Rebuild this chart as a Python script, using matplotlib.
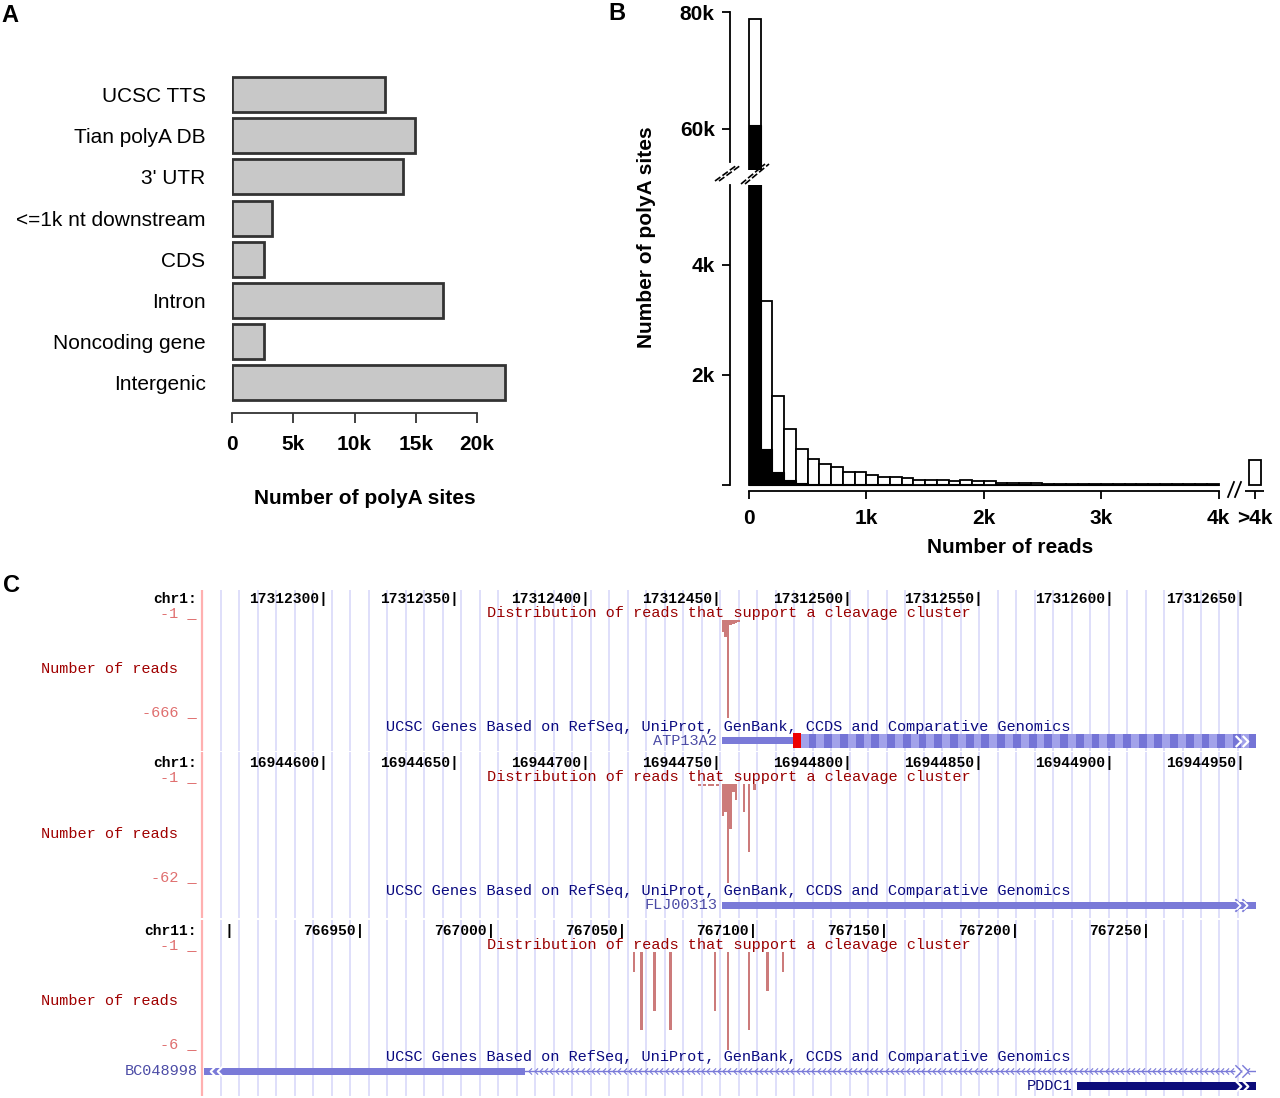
import numpy as np
import matplotlib
matplotlib.use("Agg")
import matplotlib.pyplot as plt
from matplotlib.path import Path
from matplotlib.lines import Line2D
from matplotlib.patches import Rectangle

# ---------------- data ----------------
# Panel A
categories = ["UCSC TTS", "Tian polyA DB", "3' UTR", "<=1k nt downstream",
              "CDS", "Intron", "Noncoding gene", "Intergenic"]
site_counts = [12500, 14900, 13950, 3250, 2600, 17250, 2600, 22250]
a_ticks = [0, 5000, 10000, 15000, 20000]
a_tick_labels = ["0", "5k", "10k", "15k", "20k"]

# Panel B (bins of 100 reads, 0 .. 4000)
bin_width = 100
all_counts = [78800, 3350, 1620, 1020, 660, 480, 390, 320, 240, 240,
              180, 150, 150, 120, 90, 100, 90, 70, 90, 70,
              70, 30, 30, 30, 30, 25, 25, 25, 25, 20,
              20, 20, 20, 20, 20, 20, 20, 20, 20, 20]
subset_counts = [60700, 650, 240, 100, 40, 20, 10, 10, 10, 10,
                 15, 15, 15, 15, 0, 15, 15, 15, 15, 15,
                 0, 20, 20, 20, 0, 20, 20, 0, 20, 20,
                 0, 0, 0, 0, 0, 0, 0, 0, 0, 0]
over_4k_left = 4260
over_4k_count = 450
b_xticks = [0, 1000, 2000, 3000, 4000, 4310]
b_xtick_labels = ["0", "1k", "2k", "3k", "4k", ">4k"]

# Panel C
track_chroms = ["chr1:", "chr1:", "chr11:"]
track_starts = [17312253.3, 16944553.3, 766889.3]
ruler_ticks = [
    [17312300, 17312350, 17312400, 17312450, 17312500, 17312550, 17312600, 17312650],
    [16944600, 16944650, 16944700, 16944750, 16944800, 16944850, 16944900, 16944950],
    [766950, 767000, 767050, 767100, 767150, 767200, 767250],
]
ruler_cut_tick = 766900
read_pos = [
    [17312452, 17312453, 17312454, 17312455, 17312456, 17312457, 17312458],
    [16944743, 16944745, 16944747, 16944748, 16944750, 16944752, 16944753,
     16944754, 16944755, 16944756, 16944757, 16944760, 16944762, 16944764],
    [767054, 767057, 767062, 767068, 767085, 767090, 767098, 767105, 767111],
]
read_val = [
    [-80, -115, -666, -35, -28, -20, -12],
    [-2, -2, -2, -2, -2, -21, -18, -62, -29, -6, -11, -18, -43, -5],
    [-2, -5, -4, -5, -4, -6, -5, -3, -2],
]
scale_min = [-666, -62, -6]
scale_labels_min = ["-666 _", "-62 _", "-6 _"]

# genes
atp_utr_start, atp_stop_start, atp_stop_end = 17312452.2, 17312479.2, 17312482.2
flj_start = 16944752.2
bc_exon_start, bc_exon_end = 766890.4, 767013.0
pddc1_start = 767223.7

# ---------------- figure helpers ----------------
W, H = 1280, 1098
fig = plt.figure(figsize=(W / 100, H / 100), dpi=100)
SANS = ["Liberation Sans", "DejaVu Sans"]
MONO = ["Liberation Mono", "DejaVu Sans Mono"]


def ax_px(l, t, r, b):
    return fig.add_axes([l / W, 1 - b / H, (r - l) / W, (b - t) / H])


def ftext(px, py, s, **kw):
    return fig.text(px / W, 1 - py / H, s, **kw)


def fline(xs, ys, **kw):
    fig.add_artist(Line2D([x / W for x in xs], [1 - y / H for y in ys], **kw))


# ---------------- Panel A ----------------
axA = ax_px(232, 60, 520, 413)
axA.barh(range(len(categories)), site_counts, height=0.85, color="#C8C8C8",
         edgecolor="#333333", linewidth=2)
axA.set_ylim(7.73, -0.837)
axA.set_xlim(0, 23510)
for s in ["top", "right", "left"]:
    axA.spines[s].set_visible(False)
axA.spines["bottom"].set_bounds(0, 20000)
axA.spines["bottom"].set_linewidth(1.3)
axA.spines["bottom"].set_color("#333333")
axA.set_xticks(a_ticks)
axA.set_xticklabels(a_tick_labels, fontfamily=SANS, fontweight="bold", fontsize=15)
axA.tick_params(axis="x", length=7.5, width=1.3, color="#333333", pad=8)
axA.set_yticks(range(len(categories)))
axA.set_yticklabels(categories, fontfamily=SANS, fontsize=15)
axA.tick_params(axis="y", length=0, pad=19)
ftext(365, 498, "Number of polyA sites", ha="center", va="center",
      fontfamily=SANS, fontweight="bold", fontsize=15)
ftext(10, 15, "A", ha="center", va="center", fontfamily=SANS, fontweight="bold", fontsize=17)

# ---------------- Panel B ----------------
edges = np.arange(len(all_counts)) * bin_width
xlimB = (-162, 4421)


def draw_hist(ax):
    ax.bar(edges, all_counts, width=bin_width, align="edge", color="white",
           edgecolor="black", linewidth=1.3)
    ax.bar(edges, subset_counts, width=bin_width, align="edge", color="black",
           edgecolor="black", linewidth=0.8)
    ax.bar([over_4k_left], [over_4k_count], width=bin_width, align="edge",
           color="white", edgecolor="black", linewidth=1.3)
    ax.set_xlim(*xlimB)
    for s in ["top", "right"]:
        ax.spines[s].set_visible(False)
    ax.spines["left"].set_linewidth(1.3)


axBl = ax_px(730, 185, 1268, 491)
draw_hist(axBl)
axBl.set_ylim(-109, 5454)
axBl.spines["left"].set_bounds(0, 5454)
axBl.spines["bottom"].set_bounds(0, 4000)
axBl.spines["bottom"].set_linewidth(1.3)
axBl.set_yticks([0, 2000, 4000])
axBl.set_yticklabels(["", "2k", "4k"], fontfamily=SANS, fontweight="bold", fontsize=15)
axBl.set_xticks(b_xticks)
axBl.set_xticklabels(b_xtick_labels, fontfamily=SANS, fontweight="bold", fontsize=15)
axBl.tick_params(axis="both", length=6, width=1.3, pad=5)
axBl.tick_params(axis="x", pad=7)
axBl.plot([4225, 4385], [-109, -109], color="black", lw=1.3, clip_on=False,
          solid_capstyle="butt")

axBu = ax_px(730, 10, 1268, 170)
draw_hist(axBu)
axBu.set_ylim(52991, 80342)
axBu.spines["bottom"].set_visible(False)
axBu.spines["left"].set_bounds(54400, 80000)
axBu.set_xticks([])
axBu.set_yticks([60000, 80000])
axBu.set_yticklabels(["60k", "80k"], fontfamily=SANS, fontweight="bold", fontsize=15)
axBu.tick_params(axis="y", length=6, width=1.3, pad=5)

# break marks
for dx in (0, 4):
    fline([715 + dx, 737 + dx], [181, 165], color="black", lw=1.2, ls=(0, (4, 1.5)))
    fline([741 + dx, 765 + dx], [184, 164], color="black", lw=1.2, ls=(0, (4, 1.5)))
for dx in (0, 7):
    fline([1228 + dx, 1234 + dx], [497, 482], color="black", lw=1.3)

ftext(647, 237, "Number of polyA sites", rotation=90, ha="center", va="center",
      fontfamily=SANS, fontweight="bold", fontsize=15)
ftext(1010, 547, "Number of reads", ha="center", va="center",
      fontfamily=SANS, fontweight="bold", fontsize=15)
ftext(617, 13, "B", ha="center", va="center", fontfamily=SANS, fontweight="bold", fontsize=17)

# ---------------- Panel C ----------------
ftext(11, 586, "C", ha="center", va="center", fontfamily=SANS, fontweight="bold", fontsize=17)

PX_PER_BP = 2.62
LEFT_PX, RIGHT_PX = 201, 1256
WIN_BP = (RIGHT_PX - LEFT_PX) / PX_PER_BP
GUIDE_OFFSET_BP, GUIDE_STEP_BP = 7.5, 7.06

track_top = [590, 752, 920]
track_bot = [751, 918, 1096]
sig_top = [620, 784, 952]
sig_bot = [718, 883, 1050]
ruler_y = [599, 763, 931]
title_y = [613, 777, 945]
genes_title_y = [727, 891, 1057]

c_red_title = "#990000"
c_red_scale = "#E07070"
c_sig = "#CC7B7B"
c_blue_title = "#0A0A80"
c_gene = "#7A7AD8"
c_gene_lbl = "#4C4CA6"
c_gene_dark = "#0C0C7A"
c_guide = "#DCDCFA"

chev_r = Path([(-0.5, 1.0), (0.5, 0.0), (-0.5, -1.0)], [Path.MOVETO, Path.LINETO, Path.LINETO])
chev_l = Path([(0.5, 1.0), (-0.5, 0.0), (0.5, -1.0)], [Path.MOVETO, Path.LINETO, Path.LINETO])

frames = []
for i in range(3):
    st = track_starts[i]
    ax = ax_px(LEFT_PX, track_top[i], RIGHT_PX, track_bot[i])
    ax.set_xlim(st, st + WIN_BP)
    ax.set_ylim(track_bot[i], track_top[i])
    ax.axis("off")
    guides = st + GUIDE_OFFSET_BP + GUIDE_STEP_BP * np.arange(int(WIN_BP / GUIDE_STEP_BP) + 1)
    guides = guides[guides < st + WIN_BP - 0.5]
    ax.vlines(guides, track_top[i], track_bot[i], color=c_guide, lw=1.3, zorder=0)
    ax.vlines([st + 0.3], track_top[i], track_bot[i], color="#FFB0B0", lw=1.6,
              zorder=0, clip_on=False)
    # ruler
    for t in ruler_ticks[i]:
        ax.text(t + 1.8, ruler_y[i], f"{t}|", ha="right", va="center",
                fontfamily=MONO, fontweight="bold", fontsize=10.5, color="black")
    if i == 2:
        ax.text(ruler_cut_tick, ruler_y[i], "|", ha="center", va="center",
                fontfamily=MONO, fontweight="bold", fontsize=10.5, color="black")
    ftext(197, ruler_y[i], track_chroms[i], ha="right", va="center",
          fontfamily=MONO, fontweight="bold", fontsize=10.5, color="black")
    # titles
    mid = st + WIN_BP / 2
    ax.text(mid, title_y[i], "Distribution of reads that support a cleavage cluster",
            ha="center", va="center", fontfamily=MONO, fontsize=11, color=c_red_title)
    ax.text(mid, genes_title_y[i],
            "UCSC Genes Based on RefSeq, UniProt, GenBank, CCDS and Comparative Genomics",
            ha="center", va="center", fontfamily=MONO, fontsize=11, color=c_blue_title)
    # scale labels
    ftext(197, title_y[i], "-1 _", ha="right", va="center", fontfamily=MONO,
          fontsize=11, color=c_red_scale)
    ftext(197, sig_bot[i] - 6, scale_labels_min[i], ha="right", va="center",
          fontfamily=MONO, fontsize=11, color=c_red_scale)
    ftext(109, (sig_top[i] + sig_bot[i]) / 2, "Number of reads", ha="center", va="center",
          fontfamily=MONO, fontsize=11, color="#A00000")
    # signal
    axs = ax_px(LEFT_PX, sig_top[i], RIGHT_PX, sig_bot[i])
    axs.set_xlim(st, st + WIN_BP)
    axs.set_ylim(scale_min[i], -1)
    axs.axis("off")
    axs.bar(read_pos[i], [v + 1 for v in read_val[i]], bottom=-1, width=1,
            align="edge", color=c_sig, linewidth=0)
    frames.append(ax)

edge_arrows = [395.8, 398.5]

# Track 1 gene: ATP13A2
ax = frames[0]
st = track_starts[0]
gy = 741
ax.add_patch(Rectangle((atp_utr_start, gy - 3.5), atp_stop_start - atp_utr_start, 7,
                       color=c_gene, lw=0))
ax.add_patch(Rectangle((atp_stop_start, gy - 7.5), atp_stop_end - atp_stop_start, 15,
                       color="#EE0000", lw=0))
codons = np.arange(atp_stop_end, st + WIN_BP, 3)
for k, c0 in enumerate(codons):
    ax.add_patch(Rectangle((c0, gy - 7), 3, 14, lw=0,
                           color="#A2A2EA" if k % 2 == 0 else "#7474D6"))
ax.plot([st + a for a in edge_arrows], [gy, gy], ls="none", marker=chev_r, ms=8,
        mfc="none", mec="white", mew=1.6)
ftext(717, gy, "ATP13A2", ha="right", va="center", fontfamily=MONO, fontsize=11,
      color=c_gene_lbl)

# Track 2 gene: FLJ00313
ax = frames[1]
st = track_starts[1]
gy = 905
ax.add_patch(Rectangle((flj_start, gy - 3.5), st + WIN_BP + 5 - flj_start, 7,
                       color=c_gene, lw=0))
ax.plot([st + a for a in edge_arrows], [gy, gy], ls="none", marker=chev_r, ms=9,
        mfc="none", mec=c_gene, mew=1.3)
ax.plot([st + a for a in edge_arrows], [gy, gy], ls="none", marker=chev_r, ms=6,
        mfc="none", mec="white", mew=1.3)
ftext(717, gy, "FLJ00313", ha="right", va="center", fontfamily=MONO, fontsize=11,
      color=c_gene_lbl)

# Track 3 genes: BC048998 and PDDC1
ax = frames[2]
st = track_starts[2]
gy = 1071
ax.add_patch(Rectangle((bc_exon_start, gy - 3.5), bc_exon_end - bc_exon_start, 7,
                       color=c_gene, lw=0))
ax.plot([bc_exon_start + 3.6, bc_exon_start + 6.0], [gy, gy], ls="none", marker=chev_l,
        ms=8, mfc="none", mec="white", mew=1.5)
ax.plot([bc_exon_end, st + WIN_BP], [gy, gy], color=c_gene, lw=1.0)
intron_arrows = np.arange(bc_exon_end + 2, st + WIN_BP - 1, 2.0)
ax.plot(intron_arrows, np.full(len(intron_arrows), gy), ls="none", marker=chev_l,
        ms=4.5, mfc="none", mec=c_gene, mew=0.8)
ax.plot([st + a for a in edge_arrows], [gy, gy], ls="none", marker=chev_r, ms=9,
        mfc="white", mec=c_gene, mew=1.0)
ftext(198, gy, "BC048998", ha="right", va="center", fontfamily=MONO, fontsize=11,
      color=c_gene_lbl)

gy2 = 1086
ax.add_patch(Rectangle((pddc1_start, gy2 - 4), st + WIN_BP + 5 - pddc1_start, 8,
                       color=c_gene_dark, lw=0))
ax.plot([st + a for a in edge_arrows], [gy2, gy2], ls="none", marker=chev_r, ms=8,
        mfc="none", mec="white", mew=1.6)
ftext(1072, gy2, "PDDC1", ha="right", va="center", fontfamily=MONO, fontsize=11,
      color=c_gene_dark)

fig.savefig("out.png", dpi=100, facecolor="white")
